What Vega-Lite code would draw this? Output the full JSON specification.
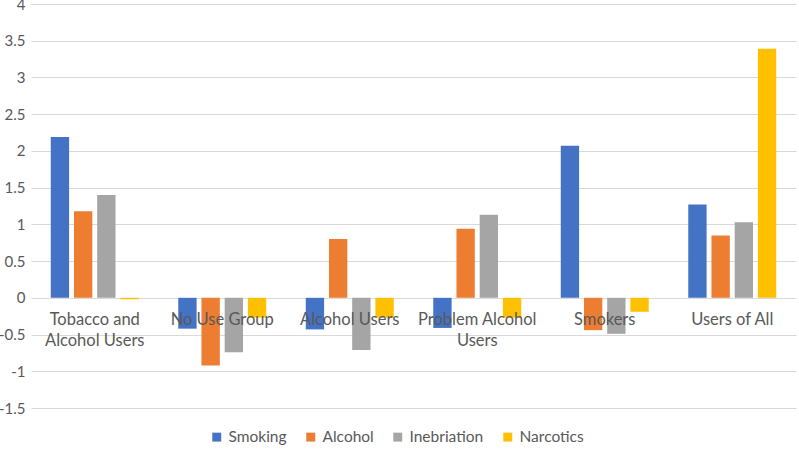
{
  "$schema": "https://vega.github.io/schema/vega-lite/v6.json",
  "width": 765,
  "height": 404,
  "autosize": "none",
  "padding": {"left": 31, "top": 4, "right": 3, "bottom": 47},
  "background": "white",
  "config": {
    "view": {"stroke": null},
    "font": "Lato",
    "axis": {"labelFont": "Lato", "labelColor": "#595959"},
    "legend": {"labelFont": "Lato", "labelColor": "#595959"}
  },
  "data": {
    "values": [
      {"group": "Tobacco and Alcohol Users", "measure": "Smoking", "value": 2.19},
      {"group": "Tobacco and Alcohol Users", "measure": "Alcohol", "value": 1.18},
      {"group": "Tobacco and Alcohol Users", "measure": "Inebriation", "value": 1.40},
      {"group": "Tobacco and Alcohol Users", "measure": "Narcotics", "value": -0.02},
      {"group": "No Use Group", "measure": "Smoking", "value": -0.42},
      {"group": "No Use Group", "measure": "Alcohol", "value": -0.92},
      {"group": "No Use Group", "measure": "Inebriation", "value": -0.74},
      {"group": "No Use Group", "measure": "Narcotics", "value": -0.27},
      {"group": "Alcohol Users", "measure": "Smoking", "value": -0.43},
      {"group": "Alcohol Users", "measure": "Alcohol", "value": 0.80},
      {"group": "Alcohol Users", "measure": "Inebriation", "value": -0.71},
      {"group": "Alcohol Users", "measure": "Narcotics", "value": -0.27},
      {"group": "Problem Alcohol Users", "measure": "Smoking", "value": -0.41},
      {"group": "Problem Alcohol Users", "measure": "Alcohol", "value": 0.94},
      {"group": "Problem Alcohol Users", "measure": "Inebriation", "value": 1.13},
      {"group": "Problem Alcohol Users", "measure": "Narcotics", "value": -0.27},
      {"group": "Smokers", "measure": "Smoking", "value": 2.07},
      {"group": "Smokers", "measure": "Alcohol", "value": -0.44},
      {"group": "Smokers", "measure": "Inebriation", "value": -0.49},
      {"group": "Smokers", "measure": "Narcotics", "value": -0.19},
      {"group": "Users of All", "measure": "Smoking", "value": 1.27},
      {"group": "Users of All", "measure": "Alcohol", "value": 0.85},
      {"group": "Users of All", "measure": "Inebriation", "value": 1.03},
      {"group": "Users of All", "measure": "Narcotics", "value": 3.39}
    ]
  },
  "mark": {"type": "bar"},
  "encoding": {
    "x": {
      "field": "group",
      "type": "nominal",
      "sort": null,
      "title": null,
      "scale": {"paddingInner": 0.31, "paddingOuter": 0.155},
      "axis": {
        "orient": "bottom",
        "offset": -110,
        "domain": false,
        "ticks": false,
        "labelAngle": 0,
        "labelFontSize": 16.5,
        "labelPadding": 13,
        "labelBaseline": "top",
        "labelLineHeight": 21,
        "labelLimit": 0,
        "zindex": 2,
        "labelExpr": "datum.value == 'Tobacco and Alcohol Users' ? ['Tobacco and', 'Alcohol Users'] : datum.value == 'Problem Alcohol Users' ? ['Problem Alcohol', 'Users'] : datum.label"
      }
    },
    "xOffset": {
      "field": "measure",
      "type": "nominal",
      "sort": ["Smoking", "Alcohol", "Inebriation", "Narcotics"],
      "scale": {"paddingInner": 0.21, "paddingOuter": 0}
    },
    "y": {
      "field": "value",
      "type": "quantitative",
      "title": null,
      "scale": {"domain": [-1.5, 4], "nice": false, "zero": false},
      "axis": {
        "values": [-1.5, -1, -0.5, 0, 0.5, 1, 1.5, 2, 2.5, 3, 3.5, 4],
        "domain": false,
        "ticks": false,
        "grid": true,
        "gridColor": "#d9d9d9",
        "gridWidth": 1,
        "labelFontSize": 15,
        "labelPadding": 6,
        "labelExpr": "toString(datum.value)"
      }
    },
    "color": {
      "field": "measure",
      "type": "nominal",
      "sort": ["Smoking", "Alcohol", "Inebriation", "Narcotics"],
      "scale": {
        "domain": ["Smoking", "Alcohol", "Inebriation", "Narcotics"],
        "range": ["#4472C4", "#ED7D31", "#A5A5A5", "#FFC000"]
      },
      "legend": {
        "title": null,
        "orient": "none",
        "legendX": 178,
        "legendY": 425,
        "direction": "horizontal",
        "symbolType": "square",
        "symbolSize": 80,
        "symbolStrokeWidth": 0,
        "labelFontSize": 15.5,
        "labelOffset": 4,
        "columnPadding": 16
      }
    }
  }
}
